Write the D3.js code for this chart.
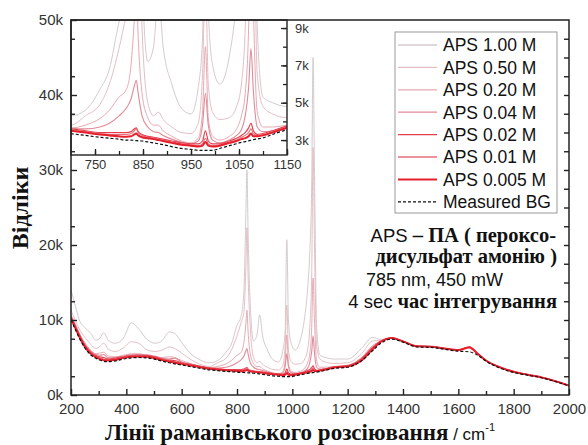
<!DOCTYPE html>
<html>
<head>
<meta charset="utf-8">
<script src="https://cdn.jsdelivr.net/npm/d3@7"></script>
<style>
  body { margin: 0; background: #fff; }
  svg { display: block; }
</style>
</head>
<body>
<script>

// Раманівський зсув, cm-1 (спільна сітка для всіх кривих)
const wavenumbers = [
  200, 215, 230, 250, 270, 290, 305, 318, 335, 360,
  390, 418, 445, 475, 505, 530, 555, 575, 600, 630,
  660, 700, 730, 760, 780, 800, 815, 825, 832, 836,
  840, 848, 860, 872, 882, 892, 910, 930, 950, 965,
  974, 980, 986, 995, 1010, 1030, 1045, 1055, 1063, 1070,
  1075, 1080, 1088, 1100, 1120, 1150, 1200, 1250, 1290, 1320,
  1360, 1400, 1450, 1500, 1550, 1600, 1640, 1670, 1700, 1750,
  1800, 1850, 1900, 1950, 2000
];

// Відліки для кожної концентрації APS
const aps100 = [
  14000, 12000, 10000, 9000, 8300, 7300, 7600, 8300, 7300, 6900,
  7600, 9600, 8800, 7400, 6900, 7300, 8400, 8200, 7000, 5600,
  4800, 4300, 4600, 5700, 6800, 9300, 10500, 14000, 24000, 30000,
  22000, 12000, 7200, 8000, 10700, 8000, 6000, 4700, 4400, 5800,
  8500, 20700, 10000, 7000, 6000, 7500, 10500, 14000, 19000, 28000,
  45000, 30000, 9000, 5300, 5000, 4800, 4800, 6200, 7700, 7400,
  7550, 7150, 6550, 6500, 6250, 6050, 6450, 5600, 4650, 3750,
  3150, 2750, 2400, 1900, 1300
];
const aps050 = [
  11300, 10000, 8800, 7700, 6800, 6200, 6500, 6900, 6100, 5800,
  6300, 7100, 6900, 6000, 5800, 6000, 6400, 6200, 5600, 4800,
  4200, 3800, 4300, 4900, 6000, 7900, 9700, 11000, 17000, 22300,
  16000, 9000, 5000, 4300, 4500, 4100, 3700, 3400, 3350, 3900,
  6500, 12000, 6000, 4500, 4100, 4200, 4800, 6000, 9000, 16000,
  33000, 20000, 6500, 4800, 4400, 4200, 4300, 5500, 7200, 7300,
  7550, 7150, 6500, 6450, 6200, 6000, 6400, 5500, 4600, 3700,
  3100, 2700, 2350, 1850, 1250
];
const aps020 = [
  10700, 9500, 8200, 7000, 6000, 5500, 5600, 5700, 5200, 5100,
  5300, 5500, 5500, 5300, 5100, 5000, 5100, 5000, 4600, 4200,
  3900, 3650, 3800, 4150, 4600, 5300, 5700, 7000, 9500, 11300,
  8500, 5500, 4200, 3800, 3800, 3500, 3200, 2950, 2850, 3100,
  4500, 8000, 4200, 3200, 3000, 3200, 3600, 4300, 5500, 9000,
  15600, 10000, 4500, 3700, 3700, 3800, 3900, 5000, 6600, 7200,
  7550, 7150, 6500, 6450, 6200, 6000, 6400, 5500, 4600, 3700,
  3100, 2700, 2350, 1850, 1250
];
const aps004 = [
  10500, 9400, 8200, 6800, 5900, 5400, 5300, 5400, 4950, 5000,
  5200, 5350, 5400, 5350, 5150, 4900, 4800, 4900, 4400, 4150,
  3900, 3650, 3600, 3700, 3900, 4300, 4700, 5200, 5900, 6200,
  5500, 4300, 3700, 3450, 3400, 3250, 3050, 2900, 2800, 2950,
  3800, 5500, 3800, 3000, 2850, 3000, 3250, 3550, 4300, 5800,
  7900, 5600, 3700, 3450, 3500, 3750, 3950, 4900, 6400, 7200,
  7600, 7150, 6500, 6450, 6200, 6000, 6400, 5500, 4600, 3700,
  3100, 2700, 2350, 1850, 1250
];
const aps002 = [
  10400, 9200, 8000, 6650, 5750, 5250, 5100, 5000, 4800, 4900,
  5100, 5250, 5300, 5250, 5050, 4800, 4650, 4600, 4300, 4100,
  3850, 3600, 3500, 3400, 3400, 3400, 3400, 3450, 3600, 3650,
  3450, 3300, 3200, 3150, 3100, 3050, 2950, 2850, 2800, 2800,
  2950, 3500, 2950, 2800, 2800, 2950, 3100, 3250, 3400, 3650,
  3900, 3500, 3300, 3350, 3500, 3750, 3900, 4800, 6300, 7150,
  7600, 7150, 6500, 6450, 6200, 6000, 6400, 5500, 4600, 3700,
  3100, 2700, 2350, 1850, 1250
];
const aps001 = [
  10300, 9100, 7900, 6550, 5650, 5150, 4950, 4800, 4700, 4800,
  5050, 5200, 5250, 5200, 5000, 4750, 4550, 4450, 4250, 4050,
  3800, 3550, 3450, 3350, 3300, 3300, 3300, 3350, 3500, 3600,
  3400, 3250, 3150, 3100, 3050, 3000, 2900, 2800, 2750, 2700,
  2800, 3100, 2800, 2700, 2750, 2900, 3000, 3150, 3250, 3400,
  3600, 3350, 3250, 3300, 3450, 3700, 3850, 4700, 6200, 7100,
  7600, 7150, 6500, 6450, 6200, 6000, 6400, 5500, 4600, 3700,
  3100, 2700, 2350, 1850, 1250
];
const aps0005 = [
  10200, 9000, 7800, 6450, 5550, 5050, 4800, 4650, 4600, 4700,
  4950, 5100, 5150, 5100, 4900, 4650, 4450, 4300, 4150, 3950,
  3750, 3500, 3400, 3300, 3250, 3200, 3180, 3200, 3300, 3350,
  3250, 3150, 3100, 3050, 3000, 2950, 2850, 2750, 2700, 2650,
  2700, 2900, 2700, 2650, 2700, 2850, 2950, 3050, 3100, 3200,
  3350, 3200, 3200, 3250, 3400, 3650, 3800, 4600, 6100, 7100,
  7600, 7150, 6500, 6450, 6200, 6000, 6350, 5500, 4600, 3700,
  3100, 2700, 2350, 1850, 1250
];
// Виміряний фон
const measuredBG = [
  10000, 8800, 7600, 6300, 5400, 4900, 4650, 4500, 4450, 4550,
  4800, 4950, 5000, 4950, 4750, 4500, 4300, 4150, 4000, 3800,
  3600, 3350, 3250, 3150, 3100, 3050, 3000, 3000, 2980, 2970,
  2960, 2950, 2900, 2850, 2800, 2750, 2650, 2550, 2500, 2450,
  2450, 2450, 2450, 2450, 2550, 2700, 2800, 2880, 2920, 2960,
  2990, 3020, 3060, 3120, 3300, 3550, 3700, 4550, 5900, 6900,
  7450, 7050, 6400, 6350, 6100, 5850, 5750, 5300, 4500, 3600,
  3000, 2650, 2300, 1800, 1200
];

const seriesNames = ["APS 1.00 M", "APS 0.50 M", "APS 0.20 M", "APS 0.04 M",
                     "APS 0.02 M", "APS 0.01 M", "APS 0.005 M", "Measured BG"];
const seriesValues = [aps100, aps050, aps020, aps004, aps002, aps001, aps0005, measuredBG];

const xTicksMain = [200, 400, 600, 800, 1000, 1200, 1400, 1600, 1800, 2000];
const yTicksMain = [0, 10000, 20000, 30000, 40000, 50000];
const xTicksInset = [750, 850, 950, 1050, 1150];
const yTicksInset = [3000, 5000, 7000, 9000];

// стилі кривих
const colors = ["#d6cacd", "#e3bfc4", "#e8a9b2", "#e08a98", "#e2404e", "#e66e7b", "#e5202c", "#111"];
const widths = [1, 1, 1, 1.1, 1.2, 1.1, 2, 1.2];

const W = 588, H = 445;
const x = d3.scaleLinear().domain([200, 2000]).range([71, 569]);
const y = d3.scaleLinear().domain([0, 50000]).range([395, 20]);
const xi = d3.scaleLinear().domain([700, 1150]).range([71, 287]);
const yi = d3.scaleLinear().domain([2200, 9430]).range([155, 20]);

const sans = "'Liberation Sans', Arial, sans-serif";
const serif = "'Liberation Serif', 'Times New Roman', serif";

const svg = d3.select("body").append("svg")
  .attr("width", W).attr("height", H)
  .style("font-family", sans);

const defs = svg.append("defs");
defs.append("clipPath").attr("id", "clipMain")
  .append("rect").attr("x", 71).attr("y", 20).attr("width", 498).attr("height", 375);
defs.append("clipPath").attr("id", "clipInset")
  .append("rect").attr("x", 71).attr("y", 20).attr("width", 216).attr("height", 135);

function drawLines(g, xs, ys) {
  const line = d3.line()
    .x((d, i) => xs(wavenumbers[i]))
    .y(d => ys(d))
    .curve(d3.curveMonotoneX);
  seriesValues.forEach((vals, k) => {
    g.append("path")
      .attr("d", line(vals))
      .attr("fill", "none")
      .attr("stroke", colors[k])
      .attr("stroke-width", widths[k])
      .attr("stroke-dasharray", k === 7 ? "3,2" : null);
  });
}

// основний графік
drawLines(svg.append("g").attr("clip-path", "url(#clipMain)"), x, y);

// вставка
const inset = svg.append("g");
inset.append("rect").attr("x", 71).attr("y", 20).attr("width", 216).attr("height", 135).attr("fill", "#fff");
drawLines(inset.append("g").attr("clip-path", "url(#clipInset)"), xi, yi);
inset.append("rect").attr("x", 71).attr("y", 20).attr("width", 216).attr("height", 135)
  .attr("fill", "none").attr("stroke", "#222").attr("stroke-width", 1.4);

inset.append("g").attr("transform", "translate(0,155)")
  .call(d3.axisBottom(xi).tickValues(d3.range(750, 1151, 50)).tickFormat("").tickSize(-4).tickSizeOuter(0));
inset.append("g").attr("transform", "translate(0,155)")
  .call(d3.axisBottom(xi).tickValues(xTicksInset).tickFormat(d3.format("d")).tickSize(-6).tickSizeOuter(0).tickPadding(5));
inset.append("g").attr("transform", "translate(287,0)")
  .call(d3.axisRight(yi).tickValues(d3.range(3000, 9001, 1000)).tickFormat("").tickSize(-4).tickSizeOuter(0));
inset.append("g").attr("transform", "translate(287,0)")
  .call(d3.axisRight(yi).tickValues(yTicksInset).tickFormat(d => d / 1000 + "k").tickSize(-6).tickSizeOuter(0).tickPadding(8));
inset.selectAll("text").attr("font-size", 13).attr("fill", "#333").attr("font-family", sans);
inset.selectAll(".domain").remove();
inset.selectAll(".tick line").attr("stroke", "#222").attr("stroke-width", 1.3);

// рамка та осі основного графіка
const axes = svg.append("g");
axes.append("rect").attr("x", 71).attr("y", 20).attr("width", 498).attr("height", 375)
  .attr("fill", "none").attr("stroke", "#222").attr("stroke-width", 1.5);
axes.append("g").attr("transform", "translate(0,395)")
  .call(d3.axisBottom(x).tickValues(d3.range(300, 2000, 200)).tickFormat("").tickSize(-4).tickSizeOuter(0));
axes.append("g").attr("transform", "translate(0,395)")
  .call(d3.axisBottom(x).tickValues(xTicksMain).tickFormat(d3.format("d")).tickSize(-6).tickSizeOuter(0).tickPadding(8));
axes.append("g").attr("transform", "translate(71,0)")
  .call(d3.axisLeft(y).tickValues(d3.range(2500, 50000, 5000)).tickFormat("").tickSize(-4).tickSizeOuter(0));
axes.append("g").attr("transform", "translate(71,0)")
  .call(d3.axisLeft(y).tickValues(yTicksMain).tickFormat(d => d / 1000 + "k").tickSize(-6).tickSizeOuter(0).tickPadding(8));
axes.append("g").attr("transform", "translate(569,0)")
  .call(d3.axisRight(y).tickValues(d3.range(2500, 50000, 2500)).tickFormat("").tickSize(-5).tickSizeOuter(0));
axes.selectAll(".domain").remove();
axes.selectAll("text").attr("font-size", 15).attr("fill", "#333").attr("font-family", sans);
axes.selectAll(".tick line").attr("stroke", "#222").attr("stroke-width", 1.4);

// легенда
const leg = svg.append("g");
leg.append("rect").attr("x", 395).attr("y", 32).attr("width", 162).attr("height", 181)
  .attr("fill", "#fff").attr("stroke", "#999").attr("stroke-width", 1);
seriesNames.forEach((name, k) => {
  const ly = 45 + k * 22.4;
  leg.append("line").attr("x1", 398).attr("x2", 437).attr("y1", ly).attr("y2", ly)
    .attr("stroke", colors[k]).attr("stroke-width", k === 7 ? 1.2 : Math.max(1.3, widths[k]))
    .attr("stroke-dasharray", k === 7 ? "3,2" : null);
  leg.append("text").attr("x", 443).attr("y", ly).attr("dy", "0.36em")
    .attr("font-size", 17.5).attr("fill", "#111").text(name);
});

// підписи
const note = svg.append("g").attr("fill", "#111");
const t1 = note.append("text").attr("x", 556).attr("y", 242).attr("text-anchor", "end").attr("font-size", 18.5);
t1.append("tspan").text("APS ");
t1.append("tspan").attr("font-family", serif).attr("font-weight", "bold").attr("font-size", 20.5).text("– ПА ( пероксо-");
note.append("text").attr("x", 557).attr("y", 263).attr("text-anchor", "end")
  .attr("font-family", serif).attr("font-weight", "bold").attr("font-size", 20.5).text("дисульфат амонію )");
note.append("text").attr("x", 366).attr("y", 286).attr("font-size", 18).text("785 nm, 450 mW");
const t4 = note.append("text").attr("x", 557).attr("y", 308).attr("text-anchor", "end").attr("font-size", 18.5);
t4.append("tspan").text("4 sec ");
t4.append("tspan").attr("font-family", serif).attr("font-weight", "bold").attr("font-size", 20.5).text("час інтегрування");

// назви осей
svg.append("text")
  .attr("transform", "translate(28,208) rotate(-90)")
  .attr("text-anchor", "middle")
  .attr("font-family", serif).attr("font-weight", "bold").attr("font-size", 24)
  .attr("fill", "#111").text("Відліки");

const xt = svg.append("text").attr("x", 300).attr("y", 440).attr("text-anchor", "middle").attr("fill", "#111");
xt.append("tspan").attr("font-family", serif).attr("font-weight", "bold").attr("font-size", 23).text("Лінії раманівського розсіювання");
xt.append("tspan").attr("font-size", 17).text(" / cm");
xt.append("tspan").attr("font-size", 11).attr("dy", -9).text("-1");

</script>
</body>
</html>
